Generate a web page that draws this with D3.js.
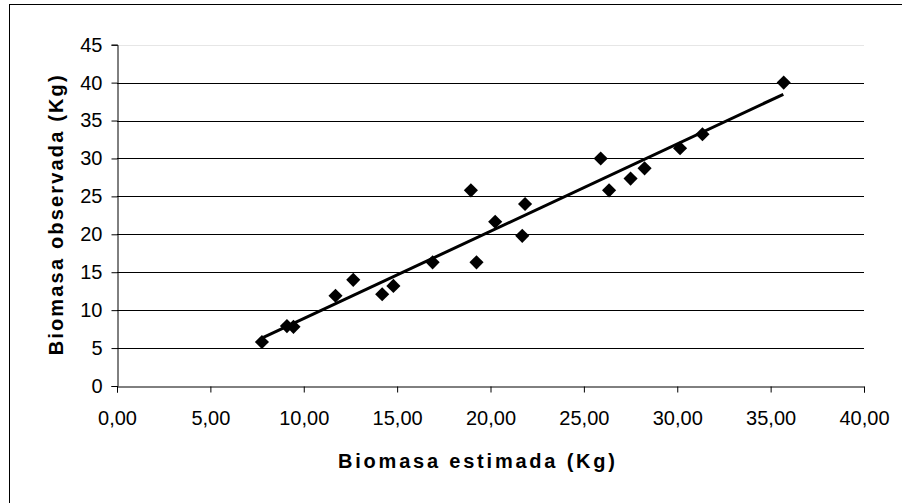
<!DOCTYPE html>
<html>
<head>
<meta charset="utf-8">
<script src="https://cdn.jsdelivr.net/npm/d3@7"></script>
<style>
  html, body { margin: 0; padding: 0; background: #fff; }
  svg { display: block; }
  text { font-family: Arial, "Liberation Sans", sans-serif; fill: #000; }
</style>
</head>
<body>
<svg id="chart" width="902" height="503"></svg>
<script>
// ---- data ----
const xEstimada = [7.76, 9.1, 9.45, 11.7, 12.65, 14.2, 14.8, 16.9, 18.95, 19.25,
                   20.25, 21.7, 21.85, 25.9, 26.35, 27.5, 28.25, 30.15, 31.35, 35.7];
const yObservada = [5.8, 7.9, 7.8, 11.9, 14.0, 12.1, 13.2, 16.3, 25.8, 16.3,
                    21.65, 19.8, 24.0, 30.0, 25.8, 27.35, 28.7, 31.35, 33.2, 40.0];
const trendX = [7.84, 35.68];
const trendY = [6.4, 38.46];
const xTicks = [0, 5, 10, 15, 20, 25, 30, 35, 40];
const yTicks = [0, 5, 10, 15, 20, 25, 30, 35, 40, 45];
const xTitle = "Biomasa estimada (Kg)";
const yTitle = "Biomasa observada (Kg)";

(function () {
// ---- layout ----
const svg = d3.select("#chart");
const pLeft = 117, pRight = 864, pTop = 44.7, pBottom = 386;

svg.append("rect")
  .attr("x", 9.5).attr("y", 4.5).attr("width", 1000).attr("height", 1000)
  .attr("fill", "#fff").attr("stroke", "#000").attr("stroke-width", 1);

const x = d3.scaleLinear().domain([0, 40]).range([pLeft, pRight]);
const y = d3.scaleLinear().domain([0, 45]).range([pBottom, pTop]);

// gridlines
svg.append("g").selectAll("line")
  .data(yTicks.filter(d => d > 0))
  .join("line")
  .attr("x1", pLeft).attr("x2", pRight)
  .attr("y1", d => Math.round(y(d)) + 0.5).attr("y2", d => Math.round(y(d)) + 0.5)
  .attr("stroke", d => d === 45 ? "#e6e6e6" : "#000")
  .attr("stroke-width", 1);

// axes
const xAxis = d3.axisBottom(x).tickValues(xTicks).tickSize(6).tickPadding(18)
  .tickFormat(d => d.toFixed(2).replace(".", ","));
const gx = svg.append("g").attr("transform", `translate(0,${Math.round(pBottom) + 0.5})`).call(xAxis);
gx.select(".domain").attr("stroke", "#000");
gx.selectAll(".tick line").attr("stroke", "#000");
gx.selectAll("text").style("font-size", "20px").attr("fill", "#000");

const yAxis = d3.axisLeft(y).tickValues(yTicks).tickSize(6).tickPadding(9)
  .tickFormat(d3.format("d"));
const gy = svg.append("g").attr("transform", `translate(${Math.round(pLeft) + 0.5},0)`).call(yAxis);
gy.select(".domain").attr("stroke", "#000");
gy.selectAll(".tick line").attr("stroke", "#000");
gy.selectAll("text").style("font-size", "20px").attr("fill", "#000");

// trendline
svg.append("line")
  .attr("x1", x(trendX[0])).attr("y1", y(trendY[0]))
  .attr("x2", x(trendX[1])).attr("y2", y(trendY[1]))
  .attr("stroke", "#000").attr("stroke-width", 3);

// points (diamonds)
const pts = xEstimada.map((v, i) => ({ x: v, y: yObservada[i] }));
svg.append("g").selectAll("path")
  .data(pts)
  .join("path")
  .attr("d", d3.symbol(d3.symbolSquare, 100))
  .attr("transform", d => `translate(${x(d.x)},${y(d.y)}) rotate(45)`)
  .attr("fill", "#000");

// titles
svg.append("text")
  .attr("x", (338 + 615) / 2).attr("y", 468)
  .attr("text-anchor", "middle")
  .attr("textLength", 277).attr("lengthAdjust", "spacing")
  .style("font-size", "20px").style("font-weight", "bold")
  .text(xTitle);

svg.append("text")
  .attr("transform", `translate(63,${(pTop + pBottom) / 2}) rotate(-90)`)
  .attr("text-anchor", "middle")
  .attr("textLength", 280).attr("lengthAdjust", "spacing")
  .style("font-size", "20px").style("font-weight", "bold")
  .text(yTitle);
})();
</script>
</body>
</html>
